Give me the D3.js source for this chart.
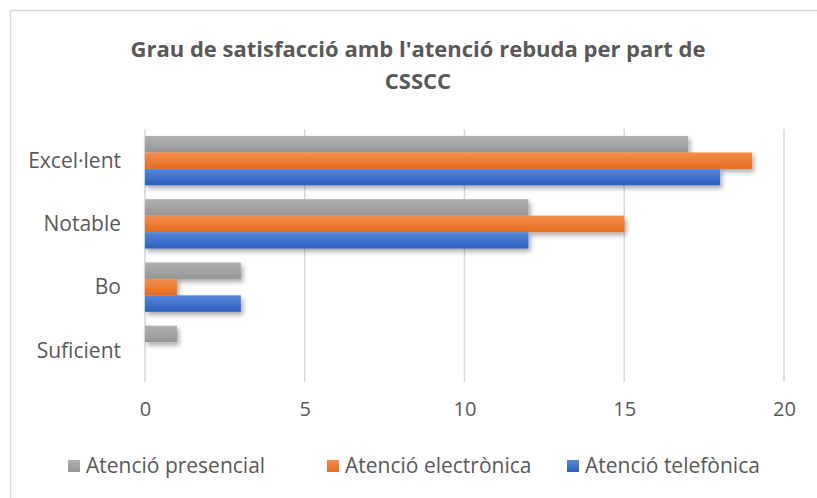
<!DOCTYPE html>
<html>
<head>
<meta charset="utf-8">
<script src="https://cdn.jsdelivr.net/npm/d3@7"></script>
<style>
  body { margin: 0; background: #fff; }
  svg text { font-family: "Open Sans", sans-serif; fill: #595959; }
</style>
</head>
<body>
<svg id="chart" width="817" height="498"></svg>
<script>
// categories top to bottom
const categories = ['Excel·lent', 'Notable', 'Bo', 'Suficient'];
const seriesNames = ['Atenció presencial', 'Atenció electrònica', 'Atenció telefònica'];
const presencial = [17, 12, 3, 1];
const electronica = [19, 15, 1, 0];
const telefonica = [18, 12, 3, 0];
const xTicks = [0, 5, 10, 15, 20];

const seriesValues = [presencial, electronica, telefonica];
// light top -> dark bottom gradient per series
const grads = [['#b0b0b0', '#969696'], ['#f58d50', '#e66c1c'], ['#5887da', '#2c5fbf']];

const svg = d3.select('#chart');
const plotLeft = 145, plotRight = 784, plotTop = 129, plotBottom = 382;

// chart frame
svg.append('rect')
  .attr('x', 10.5).attr('y', 10.5)
  .attr('width', 830).attr('height', 520)
  .attr('fill', 'white').attr('stroke', '#d9d9d9').attr('stroke-width', 1.5);

const defs = svg.append('defs');
grads.forEach((g, i) => {
  const lg = defs.append('linearGradient').attr('id', 'g' + i)
    .attr('x1', 0).attr('y1', 0).attr('x2', 0).attr('y2', 1);
  lg.append('stop').attr('offset', '0%').attr('stop-color', g[0]);
  lg.append('stop').attr('offset', '100%').attr('stop-color', g[1]);
});
const f = defs.append('filter').attr('id', 'shadow')
  .attr('x', '-10%').attr('y', '-30%').attr('width', '130%').attr('height', '200%');
f.append('feDropShadow').attr('dx', 2).attr('dy', 3).attr('stdDeviation', 2.5)
  .attr('flood-color', '#000').attr('flood-opacity', 0.35);

const x = d3.scaleLinear().domain([0, 20]).range([plotLeft, plotRight]);
const y = d3.scaleBand().domain(categories).range([plotTop, plotBottom]).paddingInner(0.22).paddingOuter(0.11);
const ySub = d3.scaleBand().domain(d3.range(seriesNames.length)).range([0, y.bandwidth()]);

// gridlines
svg.append('g')
  .selectAll('line').data(xTicks).join('line')
  .attr('x1', d => x(d)).attr('x2', d => x(d))
  .attr('y1', plotTop).attr('y2', plotBottom)
  .attr('stroke', '#d9d9d9').attr('stroke-width', 1.5);

// bars
const groups = svg.append('g').selectAll('g').data(categories).join('g')
  .attr('transform', d => `translate(0,${y(d)})`);
groups.selectAll('rect')
  .data((d, ci) => seriesValues.map((s, si) => ({ si, v: s[ci] })).filter(o => o.v > 0))
  .join('rect')
  .attr('x', x(0))
  .attr('y', d => ySub(d.si))
  .attr('width', d => x(d.v) - x(0))
  .attr('height', ySub.bandwidth())
  .attr('fill', d => `url(#g${d.si})`)
  .attr('filter', 'url(#shadow)');

// category axis labels
svg.append('g').selectAll('text').data(categories).join('text')
  .attr('x', 121).attr('y', d => y(d) + y.bandwidth() / 2)
  .attr('dy', '0.35em').attr('text-anchor', 'end')
  .attr('font-size', 21).text(d => d);

// value axis labels
const xAxis = svg.append('g').attr('transform', `translate(0,${plotBottom})`)
  .call(d3.axisBottom(x).tickValues(xTicks).tickSize(0).tickPadding(20));
xAxis.select('.domain').remove();
xAxis.selectAll('text').attr('font-size', 20).attr('fill', '#595959')
  .style('font-family', '"Open Sans", sans-serif');

// title
svg.append('text').attr('x', 418).attr('y', 57).attr('text-anchor', 'middle')
  .attr('font-size', 22).attr('font-weight', 'bold')
  .text("Grau de satisfacció amb l'atenció rebuda per part de");
svg.append('text').attr('x', 418).attr('y', 89).attr('text-anchor', 'middle')
  .attr('font-size', 22).attr('font-weight', 'bold')
  .text('CSSCC');

// legend
const legendX = [68, 327, 567];
const leg = svg.append('g').selectAll('g').data(seriesNames).join('g')
  .attr('transform', (d, i) => `translate(${legendX[i]},460)`);
leg.append('rect').attr('width', 12).attr('height', 12).attr('fill', (d, i) => `url(#g${i})`);
leg.append('text').attr('x', 18).attr('y', 6).attr('dy', '0.35em')
  .attr('font-size', 21).text(d => d);
</script>
</body>
</html>
